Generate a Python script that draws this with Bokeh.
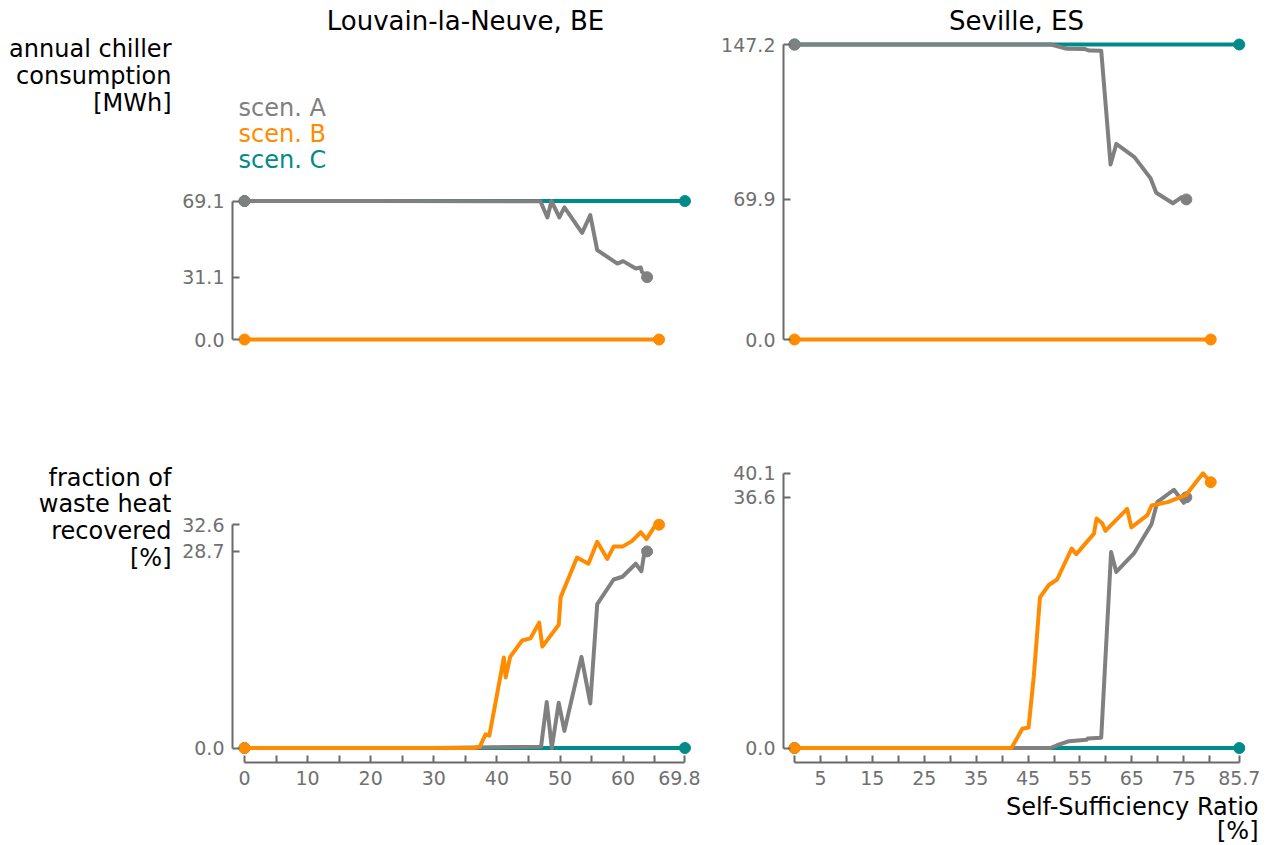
from bokeh.plotting import figure
from bokeh.models import Range1d, FixedTicker, Label
from bokeh.layouts import column, row
from bokeh.embed import file_html
from bokeh.resources import INLINE

# ---------------- data ----------------
col_titles = ["Louvain-la-Neuve, BE", "Seville, ES"]
row_titles_top = ["annual chiller", "consumption", "[MWh]"]
row_titles_bottom = ["fraction of", "waste heat", "recovered", "[%]"]
xlabel_lines = ["Self-Sufficiency Ratio", "[%]"]
scen_names = ["scen. A", "scen. B", "scen. C"]
scen_colors = ["#808080", "#ff8c00", "#008b8b"]

# Louvain-la-Neuve, chiller consumption [MWh]
lln_chill_a_x = [0, 20, 41.5, 46.9, 48.0, 48.65, 49.9, 50.7, 53.5, 54.8, 55.9, 59.1, 60.0, 62.0, 62.8, 63.0, 63.8]
lln_chill_a_y = [69.1, 69.1, 69.0, 69.0, 60.9, 69.1, 60.9, 65.9, 53.2, 62.1, 44.6, 37.9, 39.1, 35.4, 35.9, 33.7, 31.1]
lln_chill_b_x = [0, 65.7]
lln_chill_b_y = [0.0, 0.0]
lln_chill_c_x = [0, 69.8]
lln_chill_c_y = [69.1, 69.1]

# Seville, chiller consumption [MWh]
sev_chill_a_x = [0, 30, 49.4, 52.5, 56.0, 56.8, 59.1, 60.9, 62.0, 65.5, 68.6, 69.7, 72.9, 74.6, 75.5]
sev_chill_a_y = [147.2, 147.2, 147.2, 145.1, 144.9, 144.2, 144.1, 87.3, 97.6, 91.0, 80.5, 73.2, 68.0, 71.0, 69.9]
sev_chill_b_x = [0, 80.2]
sev_chill_b_y = [0.0, 0.0]
sev_chill_c_x = [0, 85.7]
sev_chill_c_y = [147.2, 147.2]

# Louvain-la-Neuve, fraction of waste heat recovered [%]
lln_heat_a_x = [0, 30, 47.0, 47.9, 48.7, 49.8, 50.7, 53.4, 54.8, 55.9, 58.5, 59.9, 62.0, 62.9, 63.3, 63.8]
lln_heat_a_y = [0, 0, 0.2, 6.7, 0.0, 6.6, 2.5, 13.3, 6.5, 21.0, 24.6, 25.0, 26.9, 25.8, 28.1, 28.7]
lln_heat_b_x = [0, 36.4, 37.3, 38.2, 38.8, 39.9, 41.1, 41.4, 42.1, 44.0, 45.3, 46.7, 47.2, 49.8, 50.1,
                52.7, 54.5, 55.9, 57.5, 58.5, 59.9, 61.4, 62.8, 63.7, 64.9, 65.7]
lln_heat_b_y = [0, 0, 0.2, 2.0, 1.8, 7.2, 13.2, 10.3, 13.3, 15.7, 16.0, 18.3, 14.8, 18.0, 22.0,
                27.8, 26.9, 30.1, 27.6, 29.4, 29.4, 30.2, 31.5, 30.5, 32.2, 32.6]
lln_heat_c_x = [0, 69.8]
lln_heat_c_y = [0.0, 0.0]

# Seville, fraction of waste heat recovered [%]
sev_heat_a_x = [0, 30, 49.3, 50.6, 52.9, 56.3, 56.5, 59.1, 61.0, 62.0, 65.4, 68.8, 69.9, 73.1, 75.0, 75.5]
sev_heat_a_y = [0, 0, 0, 0.4, 1.0, 1.2, 1.4, 1.5, 28.6, 25.7, 28.4, 32.7, 35.9, 37.7, 35.8, 36.6]
sev_heat_b_x = [0, 41.8, 43.9, 45.1, 46.1, 47.3, 49.0, 50.6, 53.4, 54.3, 57.7, 58.2, 59.3, 59.9,
                64.1, 64.9, 68.0, 68.8, 71.9, 75.4, 78.7, 80.2]
sev_heat_b_y = [0, 0, 2.8, 3.0, 10.4, 22.0, 23.8, 24.6, 29.1, 28.3, 31.3, 33.5, 32.8, 31.7,
                34.9, 32.2, 34.0, 35.4, 35.9, 36.9, 40.1, 38.8]
sev_heat_c_x = [0, 85.7]
sev_heat_c_y = [0.0, 0.0]

# axis ticks
lln_chill_yticks = [0.0, 31.1, 69.1]
sev_chill_yticks = [0.0, 69.9, 147.2]
lln_heat_yticks = [0.0, 28.7, 32.6]
sev_heat_yticks = [0.0, 36.6, 40.1]
lln_xticks = [0, 10, 20, 30, 40, 50, 60, 69.8]
lln_xminor = [5, 15, 25, 35, 45, 55, 65]
sev_xticks = [5, 15, 25, 35, 45, 55, 65, 75, 85.7]
sev_xminor = [0, 10, 20, 30, 40, 50, 60, 70, 80]

# ---------------- style ----------------
FONT = "DejaVu Sans"
SPINE = "#6a6a6a"
TICKLAB = "#707070"

# pixel scales of the panels
LLN_PX = 6.31     # px per % (Louvain x)
SEV_PX = 5.19     # px per % (Seville x)
TOP_PY = 2.004    # px per MWh
BOT_PY = 6.85     # px per %


def fmt(v, dec):
    return f"{v:.{dec}f}"


def style_axis(ax, ticks, minor, bounds, labels):
    ax.ticker = FixedTicker(ticks=ticks, minor_ticks=minor)
    ax.bounds = bounds
    ax.major_label_overrides = labels
    ax.axis_line_color = SPINE
    ax.axis_line_width = 2
    ax.major_tick_line_color = SPINE
    ax.major_tick_line_width = 2
    ax.minor_tick_line_color = SPINE
    ax.minor_tick_line_width = 2
    ax.major_tick_in = 7
    ax.major_tick_out = 0
    ax.minor_tick_in = 7
    ax.minor_tick_out = 0
    ax.major_label_text_font = FONT
    ax.major_label_text_font_size = "19px"
    ax.major_label_text_color = TICKLAB
    ax.major_label_standoff = 8


def make_panel(width, height, xr, yr, yaxis_at, series, yticks,
               xaxis_at=None, xticks=None, xminor=None, xmax=None):
    p = figure(width=width, height=height, x_range=Range1d(*xr), y_range=Range1d(*yr),
               min_border=0, title=None, output_backend="svg", toolbar_location=None)
    p.outline_line_color = None
    p.grid.visible = False
    p.background_fill_color = "white"
    p.border_fill_color = "white"
    ya = p.yaxis[0]
    style_axis(ya, yticks, [], (0, max(yticks)), {v: fmt(v, 1) for v in yticks})
    ya.fixed_location = yaxis_at
    if xticks is None:
        p.xaxis.visible = False
    else:
        lab = {}
        for v in xticks:
            lab[v] = fmt(v, 0) if float(v).is_integer() else fmt(v, 1)
        xa = p.xaxis[0]
        style_axis(xa, xticks, xminor, (0, xmax), lab)
        xa.fixed_location = xaxis_at
    # draw order: C, A, B
    for idx in (2, 0, 1):
        xs, ys = series[idx]
        c = scen_colors[idx]
        p.line(xs, ys, line_color=c, line_width=4, line_join="round")
        p.scatter([xs[0], xs[-1]], [ys[0], ys[-1]], size=11, fill_color=c, line_color=c)
    return p


def add_label(p, text, sx, sy, size="24px", color="black", align="right"):
    p.add_layout(Label(x=sx, y=sy, x_units="screen", y_units="screen", text=text,
                       text_font=FONT, text_font_size=size, text_color=color,
                       text_align=align, text_baseline="middle"))


# canvases (page px): TL (0,0)-(700,420), TR (700,0)-(1271,420),
#                     BL (0,420)-(700,845), BR (700,420)-(1271,845)
# data zero positions on page: Louvain x0=244, Seville x0=794, top y0=339, bottom y0=747.5
lln_xr = (-244 / LLN_PX, (700 - 244) / LLN_PX)
sev_xr = (-(794 - 700) / SEV_PX, (1271 - 794) / SEV_PX)
top_yr = (-(420 - 339) / TOP_PY, 339 / TOP_PY)
bot_yr = (-(845 - 747.5) / BOT_PY, (747.5 - 420) / BOT_PY)
lln_yaxis_at = (232 - 244) / LLN_PX
sev_yaxis_at = (783 - 794) / SEV_PX
bot_xaxis_at = -(762 - 747.5) / BOT_PY

p_tl = make_panel(700, 420, lln_xr, top_yr, lln_yaxis_at,
                  [(lln_chill_a_x, lln_chill_a_y), (lln_chill_b_x, lln_chill_b_y), (lln_chill_c_x, lln_chill_c_y)],
                  lln_chill_yticks)
p_tr = make_panel(571, 420, sev_xr, top_yr, sev_yaxis_at,
                  [(sev_chill_a_x, sev_chill_a_y), (sev_chill_b_x, sev_chill_b_y), (sev_chill_c_x, sev_chill_c_y)],
                  sev_chill_yticks)
p_bl = make_panel(700, 425, lln_xr, bot_yr, lln_yaxis_at,
                  [(lln_heat_a_x, lln_heat_a_y), (lln_heat_b_x, lln_heat_b_y), (lln_heat_c_x, lln_heat_c_y)],
                  lln_heat_yticks, bot_xaxis_at, lln_xticks, lln_xminor, 69.8)
p_br = make_panel(571, 425, sev_xr, bot_yr, sev_yaxis_at,
                  [(sev_heat_a_x, sev_heat_a_y), (sev_heat_b_x, sev_heat_b_y), (sev_heat_c_x, sev_heat_c_y)],
                  sev_heat_yticks, bot_xaxis_at, sev_xticks, sev_xminor, 85.7)

# texts; screen coordinates are relative to each canvas' bottom-left corner
add_label(p_tl, col_titles[0], 465, 420 - 20, size="26px", align="center")
add_label(p_tr, col_titles[1], 1016 - 700, 420 - 20, size="26px", align="center")

for i, t in enumerate(row_titles_top):
    add_label(p_tl, t, 171, 420 - (48 + 27 * i))
for i, t in enumerate(row_titles_bottom):
    add_label(p_bl, t, 171, 845 - (477 + 26.7 * i))

for i, t in enumerate(scen_names):
    add_label(p_tl, t, 238, 420 - (107 + 26 * i), color=scen_colors[i], align="left")

add_label(p_br, xlabel_lines[0], 1258 - 700, 845 - 806)
add_label(p_br, xlabel_lines[1], 1258 - 700, 845 - 830)

layout = column(row(p_tl, p_tr), row(p_bl, p_br))
open("out.html", "w").write(file_html(layout, INLINE))
